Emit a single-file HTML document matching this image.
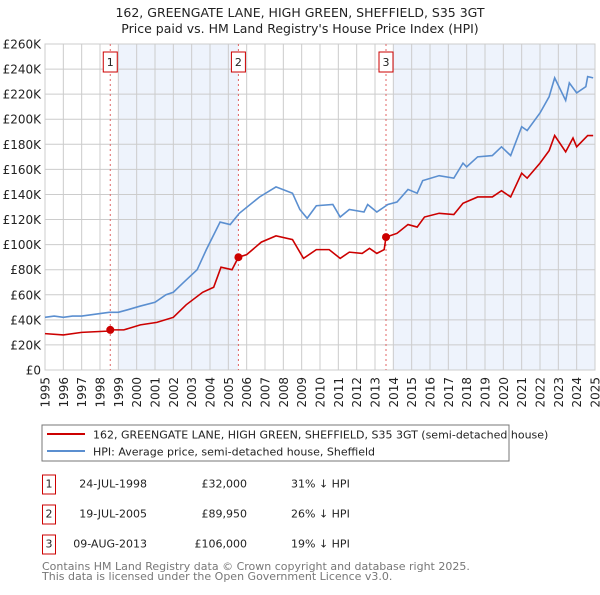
<!DOCTYPE html>
<html><head><meta charset="utf-8"><style>
body{margin:0;background:#fff;}
svg text{font-family:"DejaVu Sans","Liberation Sans",sans-serif;}
</style></head><body>
<svg id="chart" width="600" height="590" xmlns="http://www.w3.org/2000/svg">
<text x="300" y="17" text-anchor="middle" font-size="12.5" fill="#222">162, GREENGATE LANE, HIGH GREEN, SHEFFIELD, S35 3GT</text>
<text x="300" y="33" text-anchor="middle" font-size="12.5" fill="#222">Price paid vs. HM Land Registry's House Price Index (HPI)</text>
<g id="plot"></g>
<rect x="42" y="425" width="467" height="36" fill="#fff" stroke="#777"/>
<line x1="47" y1="434" x2="85" y2="434" stroke="#cc0000" stroke-width="2"/>
<text x="93" y="438.5" font-size="11" fill="#222">162, GREENGATE LANE, HIGH GREEN, SHEFFIELD, S35 3GT (semi-detached house)</text>
<line x1="47" y1="451" x2="85" y2="451" stroke="#5b8fd0" stroke-width="2"/>
<text x="93" y="455.5" font-size="11" fill="#222">HPI: Average price, semi-detached house, Sheffield</text>
<g id="table" font-size="11" fill="#222"></g>
<text x="42" y="570" font-size="11" fill="#777">Contains HM Land Registry data © Crown copyright and database right 2025.</text>
<text x="42" y="580" font-size="11" fill="#777">This data is licensed under the Open Government Licence v3.0.</text>
</svg>
<script>
const hpiYears=[1995,1995.5,1996,1996.5,1997,1997.5,1998,1998.5,1999,1999.5,2000.2,2001,2001.6,2002,2002.5,2003.3,2003.8,2004.55,2005.1,2005.6,2006.7,2007.6,2008.5,2008.9,2009.3,2009.8,2010.7,2011.1,2011.6,2012.4,2012.6,2013.1,2013.7,2014.2,2014.8,2015.3,2015.6,2016.5,2017.3,2017.8,2018.0,2018.6,2019.4,2019.9,2020.4,2021.0,2021.3,2022.0,2022.5,2022.8,2023.4,2023.6,2024.0,2024.5,2024.6,2024.9];
const hpiValues=[42,43,42,43,43,44,45,46,46,48,51,54,60,62,69,80,96,118,116,125,138,146,141,128,121,131,132,122,128,126,132,126,132,134,144,141,151,155,153,165,162,170,171,178,171,194,191,205,218,233,215,229,221,226,234,233];
const redYears=[1995,1996,1997,1998.4,1998.56,1999.3,2000.2,2001.1,2002,2002.7,2003.6,2004.2,2004.6,2005.2,2005.55,2006,2006.8,2007.6,2008.5,2009.1,2009.8,2010.5,2011.1,2011.6,2012.3,2012.7,2013.1,2013.5,2013.6,2014.2,2014.8,2015.3,2015.7,2016.5,2017.3,2017.8,2018.6,2019.4,2019.9,2020.4,2021.0,2021.3,2022.0,2022.5,2022.8,2023.4,2023.8,2024.0,2024.6,2024.9];
const redValues=[29,28,30,31,32,32,36,38,42,52,62,66,82,80,89.95,92,102,107,104,89,96,96,89,94,93,97,93,96,106,109,116,114,122,125,124,133,138,138,143,138,157,153,165,175,187,174,185,178,187,187];
const saleYears=[1998.56,2005.55,2013.6];
const saleValues=[32,89.95,106];
const saleLabels=["1","2","3"];
const saleDates=["24-JUL-1998","19-JUL-2005","09-AUG-2013"];
const salePrices=["£32,000","£89,950","£106,000"];
const saleDiffs=["31% ↓ HPI","26% ↓ HPI","19% ↓ HPI"];
const yTicks=[0,20,40,60,80,100,120,140,160,180,200,220,240,260];
const yTickLabels=["£0","£20K","£40K","£60K","£80K","£100K","£120K","£140K","£160K","£180K","£200K","£220K","£240K","£260K"];
const xTicks=[1995,1996,1997,1998,1999,2000,2001,2002,2003,2004,2005,2006,2007,2008,2009,2010,2011,2012,2013,2014,2015,2016,2017,2018,2019,2020,2021,2022,2023,2024,2025];

const NS="http://www.w3.org/2000/svg";
const X0=45,X1=595,Y0=370,Y1=44;
const xs=y=>X0+(y-1995)/30*(X1-X0);
const ys=v=>Y0-v/260*(Y0-Y1);
const plot=document.getElementById('plot');
function mk(t,a,p){const e=document.createElementNS(NS,t);for(const k in a)e.setAttribute(k,a[k]);(p||plot).appendChild(e);return e;}

let s1=mk('rect',{x:xs(1999),y:Y1,width:xs(saleYears[1])-xs(1999),height:Y0-Y1,fill:'#eef3fc'});


let s2=mk('rect',{x:xs(2014),y:Y1,width:X1-xs(2014),height:Y0-Y1,fill:'#eef3fc'});


yTicks.forEach((v,i)=>{
 let l=mk('line',{x1:X0,x2:X1,y1:ys(v),y2:ys(v),stroke:'#cccccc'});
 
 
 let t=mk('text',{x:X0-4,y:ys(v)+4.5,'text-anchor':'end','font-size':'12',fill:'#222'});
 
 
 t.textContent=yTickLabels[i];
});
xTicks.forEach(y=>{
 let l=mk('line',{x1:xs(y),x2:xs(y),y1:Y1,y2:Y0,stroke:'#cccccc'});
 
 
 const tx=xs(y)+4.5, ty=377;
 let t=mk('text',{x:tx,y:ty,'text-anchor':'end','font-size':'12',fill:'#222',transform:'rotate(-90 '+tx+' '+ty+')'});
 
 
 t.textContent=y;
});
let fr=mk('rect',{x:X0,y:Y1,width:X1-X0,height:Y0-Y1,fill:'none',stroke:'#cccccc'});


saleYears.forEach((y,i)=>{
 let l=mk('line',{x1:xs(y),x2:xs(y),y1:Y1,y2:Y0,stroke:'#e06666','stroke-dasharray':'2,3'});
 
 
 let r=mk('rect',{x:xs(y)-7,y:52,width:14,height:20,fill:'#fff',stroke:'#cc0000'});
 
 
 let t=mk('text',{x:xs(y),y:66,'text-anchor':'middle','font-size':'11',fill:'#222'});
 
 
 t.textContent=saleLabels[i];
});
let hp=mk('polyline',{points:hpiYears.map((y,i)=>xs(y)+','+ys(hpiValues[i])).join(' '),fill:'none',stroke:'#5b8fd0','stroke-width':'1.6'});


let rp=mk('polyline',{points:redYears.map((y,i)=>xs(y)+','+ys(redValues[i])).join(' '),fill:'none',stroke:'#cc0000','stroke-width':'1.6'});


saleYears.forEach((y,i)=>{
 let c=mk('circle',{cx:xs(y),cy:ys(saleValues[i]),r:4,fill:'#cc0000'});
 
 
});
const tb=document.getElementById('table');
saleLabels.forEach((lab,i)=>{
 const cy=483+i*30;
 let r=mk('rect',{x:42.5,y:cy-8,width:13,height:19,fill:'#fff',stroke:'#cc0000'},tb);
 
 
 const cols=[[49,'middle',lab],[147,'end',saleDates[i]],[247,'end',salePrices[i]],[291,'start',saleDiffs[i]]];
 cols.forEach((c,j)=>{
  let t=mk('text',{x:c[0],y:cy+4.5,'text-anchor':c[1]},tb);
  
  
  t.textContent=c[2];
 });
});
</script>
</body></html>
